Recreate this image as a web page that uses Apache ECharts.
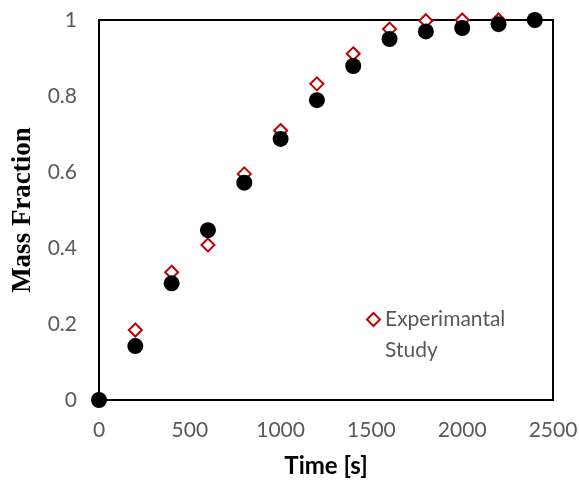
<!DOCTYPE html>
<html>
<head>
<meta charset="utf-8">
<script src="https://cdn.jsdelivr.net/npm/echarts@6/dist/echarts.min.js"></script>
<style>
  html, body { margin: 0; padding: 0; background: #fff; }
  #chart { width: 579px; height: 487px; }
</style>
</head>
<body>
<div id="chart"></div>
<script>
  // time [s]
  const timeData = [0, 200, 400, 600, 800, 1000, 1200, 1400, 1600, 1800, 2000, 2200, 2400]
  // experimental study (red diamonds)
  const expData = [0, 0.184, 0.336, 0.408, 0.595, 0.709, 0.832, 0.911, 0.976, 0.998, 1.0, 1.0, 1.0]
  // model (black circles)
  const modelData = [0, 0.142, 0.307, 0.447, 0.572, 0.687, 0.789, 0.879, 0.95, 0.97, 0.979, 0.989, 1.0]
  const xTicks = [0, 2500, 500]
  const yTicks = [0, 1, 0.2]

  const pair = (xs, ys) => xs.map((x, i) => [x, ys[i]])

  const myChart = echarts.init(document.getElementById('chart'))
  const option = {
    animation: false,
    grid: {
      left: 99,
      right: 26,
      top: 20,
      bottom: 87,
      outerBoundsMode: 'none',
      show: true,
      borderColor: '#000',
      borderWidth: 2,
    },
    legend: {
      data: ['Experimantal Study'],
      left: 361,
      top: 268,
      itemWidth: 13,
      itemHeight: 13,
      itemGap: 5,
      formatter: () => '\nExperimantal\nStudy', // blank first line keeps the icon on line one
      textStyle: {
        color: '#595959',
        fontSize: 21,
        fontFamily: 'Lato',
        lineHeight: 31,
      },
    },
    xAxis: {
      type: 'value',
      name: 'Time [s]',
      nameLocation: 'middle',
      nameGap: 54,
      nameTextStyle: { color: '#000', fontSize: 24, fontWeight: 'bold', fontFamily: 'Lato' },
      min: xTicks[0],
      max: xTicks[1],
      interval: xTicks[2],
      axisLine: { show: true, lineStyle: { color: '#000', width: 2 } },
      axisTick: { show: false },
      splitLine: { show: false },
      axisLabel: { color: '#595959', fontSize: 21, fontFamily: 'Lato', margin: 20, formatter: v => String(v) },
    },
    yAxis: {
      type: 'value',
      name: 'Mass Fraction',
      nameLocation: 'middle',
      nameGap: 62,
      nameTextStyle: { color: '#000', fontSize: 27, fontWeight: 'bold', fontFamily: 'Liberation Serif' },
      min: yTicks[0],
      max: yTicks[1],
      interval: yTicks[2],
      axisLine: { show: true, lineStyle: { color: '#000', width: 2 } },
      axisTick: { show: false },
      splitLine: { show: false },
      axisLabel: { color: '#595959', fontSize: 21, fontFamily: 'Lato', margin: 22, formatter: v => String(v) },
    },
    series: [
      {
        name: 'Experimantal Study',
        type: 'scatter',
        clip: false,
        symbol: 'diamond',
        symbolSize: 13,
        itemStyle: { color: '#fff', borderColor: '#C00000', borderWidth: 2, opacity: 1 },
        data: pair(timeData, expData),
        z: 2,
      },
      {
        name: 'Model',
        type: 'scatter',
        clip: false,
        symbol: 'circle',
        symbolSize: 16,
        itemStyle: { color: '#000', opacity: 1 },
        data: pair(timeData, modelData),
        z: 3,
      },
    ],
  }
  myChart.setOption(option)
</script>
</body>
</html>
